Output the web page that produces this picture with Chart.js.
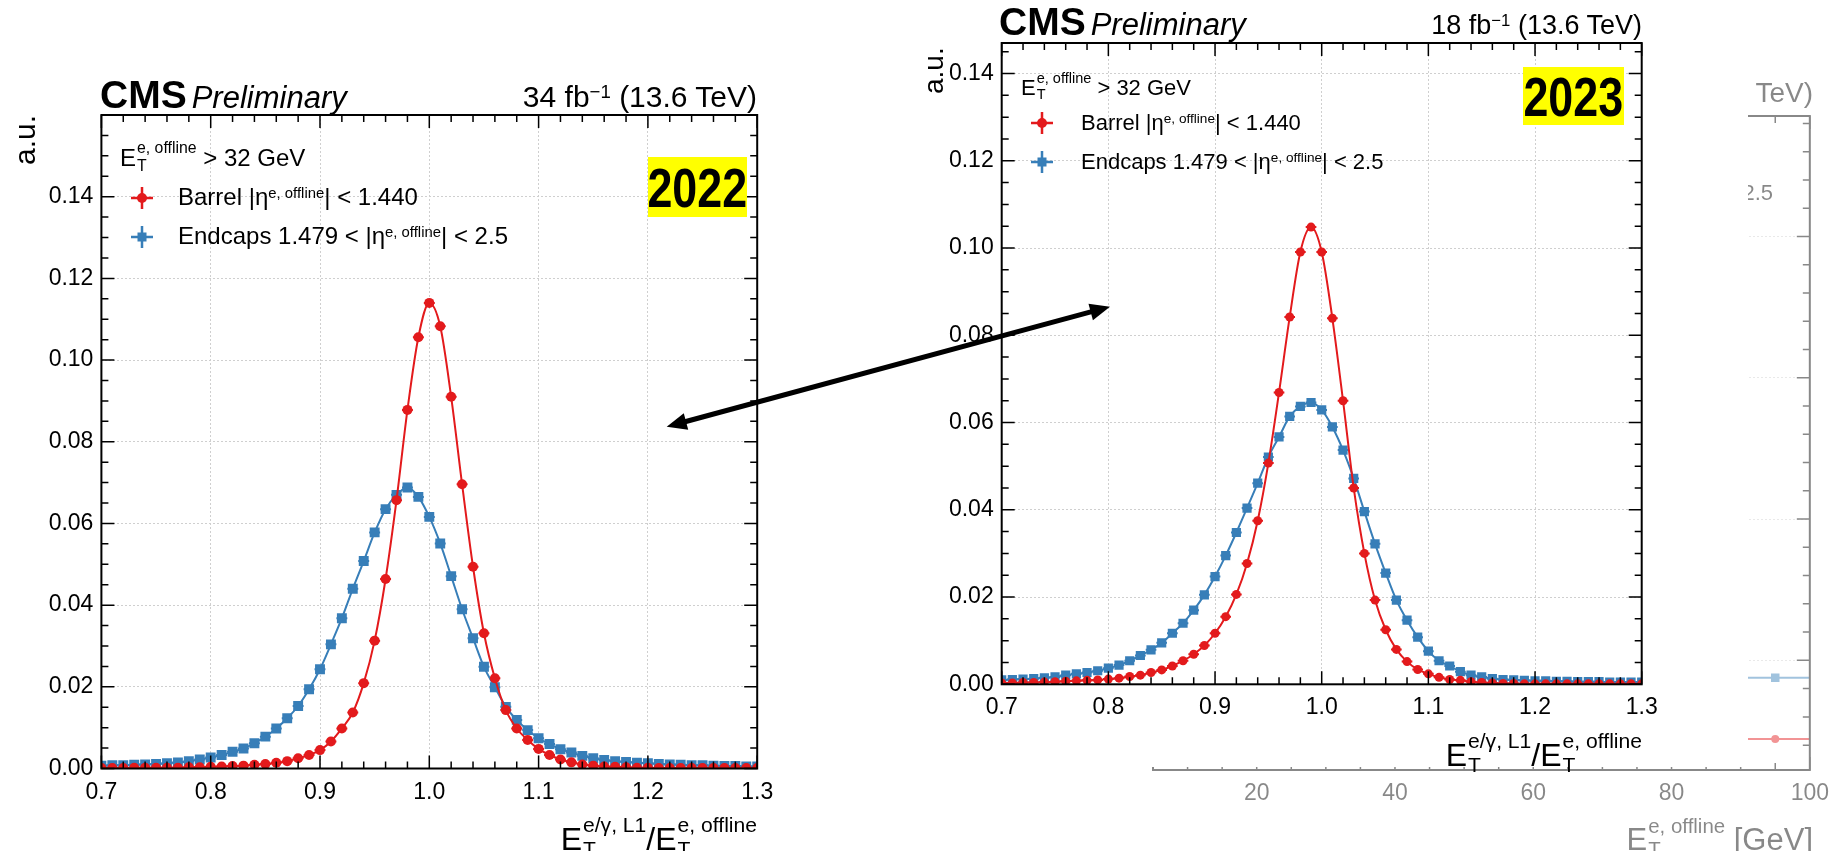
<!DOCTYPE html>
<html>
<head>
<meta charset="utf-8">
<title>L1 e/gamma response 2022 vs 2023</title>
<script src="https://cdn.jsdelivr.net/npm/chart.js@4/dist/chart.umd.min.js"></script>
<style>
  html, body { margin: 0; padding: 0; background: #fff; }
  body { width: 1839px; height: 851px; position: relative; overflow: hidden;
         font-family: "Liberation Sans", Arial, sans-serif; color: #000; }
  .panel { position: absolute; top: 0; }
  .panel canvas { position: absolute; left: 0; top: 0; }
  .txt { position: absolute; white-space: nowrap; line-height: 1; }
  .txt sup { font-size: 0.62em; vertical-align: 0.5em; line-height: 0; }
  .st { display: inline-block; vertical-align: -0.28em; font-size: 0.66em; line-height: 1.12; margin-left: 1px; }
  .st span { display: block; }
  .cms b { font-size: 39px; }
  .cms i { font-size: 31px; margin-left: 5px; }
  .rot { transform-origin: 0 0; transform: rotate(-90deg); }
  .year { position: absolute; background: #ffff00; display: flex; align-items: center; justify-content: center; }
  .year span { font: bold 56px "Liberation Sans", Arial, sans-serif; transform: scaleX(0.8); }
  .mk { position: absolute; }
</style>
</head>
<body>

<!-- faded plot peeking out on the right -->
<div class="panel" id="p3" style="left:1100px;width:739px;height:851px;opacity:0.47;z-index:1">
  <canvas id="c3" width="739" height="851"></canvas>
  <div class="txt" style="right:26px;top:79px;font-size:28px">18 fb<sup>−1</sup> (13.6 TeV)</div>
  <div class="txt" style="right:66px;top:182px;font-size:22px">Endcaps 1.479 &lt; |η<sup>e, offline</sup>| &lt; 2.5</div>
  <div class="txt" style="right:26px;top:815px;font-size:31px">E<span class="st"><span>e, offline</span><span>T</span></span> [GeV]</div>
</div>

<!-- 2023 -->
<div class="panel" id="p23" style="left:900px;width:848px;height:767px;background:#fff;z-index:2">
  <canvas id="c23" width="848" height="767"></canvas>
  <div class="txt cms" style="left:99px;top:2px"><b>CMS</b><i>Preliminary</i></div>
  <div class="txt" style="right:106px;top:12px;font-size:27px">18 fb<sup>−1</sup> (13.6 TeV)</div>
  <div class="txt rot" style="left:20px;top:94px;font-size:28px">a.u.</div>
  <div class="txt" style="left:121px;top:70px;font-size:22px">E<span class="st"><span>e, offline</span><span>T</span></span> &gt; 32 GeV</div>
  <svg class="mk" style="left:129px;top:110px" width="26" height="26"><path d="M2,13H24M13,2V24" stroke="#e31a1c" stroke-width="2.5"/><circle cx="13" cy="13" r="5" fill="#e31a1c"/></svg>
  <div class="txt" style="left:181px;top:112px;font-size:22px">Barrel |η<sup>e, offline</sup>| &lt; 1.440</div>
  <svg class="mk" style="left:129px;top:149px" width="26" height="26"><path d="M2,13H24M13,2V24" stroke="#377eb8" stroke-width="2.5"/><rect x="8.5" y="8.5" width="9" height="9" fill="#377eb8"/></svg>
  <div class="txt" style="left:181px;top:151px;font-size:22px">Endcaps 1.479 &lt; |η<sup>e, offline</sup>| &lt; 2.5</div>
  <div class="year" style="left:623px;top:67px;width:101px;height:58px"><span>2023</span></div>
  <div class="txt" style="right:106px;top:729px;font-size:32px">E<span class="st"><span>e/γ, L1</span><span>T</span></span>/E<span class="st"><span>e, offline</span><span>T</span></span></div>
</div>

<!-- 2022 -->
<div class="panel" id="p22" style="left:0;width:800px;height:851px;background:#fff;z-index:3">
  <canvas id="c22" width="800" height="851"></canvas>
  <div class="txt cms" style="left:100px;top:75px"><b>CMS</b><i>Preliminary</i></div>
  <div class="txt" style="right:43px;top:82px;font-size:30px">34 fb<sup>−1</sup> (13.6 TeV)</div>
  <div class="txt rot" style="left:10px;top:165px;font-size:30px">a.u.</div>
  <div class="txt" style="left:120px;top:139px;font-size:24px">E<span class="st"><span>e, offline</span><span>T</span></span> &gt; 32 GeV</div>
  <svg class="mk" style="left:129px;top:185px" width="26" height="26"><path d="M2,13H24M13,2V24" stroke="#e31a1c" stroke-width="2.5"/><circle cx="13" cy="13" r="5" fill="#e31a1c"/></svg>
  <div class="txt" style="left:178px;top:185px;font-size:24px">Barrel |η<sup>e, offline</sup>| &lt; 1.440</div>
  <svg class="mk" style="left:129px;top:224px" width="26" height="26"><path d="M2,13H24M13,2V24" stroke="#377eb8" stroke-width="2.5"/><rect x="8.5" y="8.5" width="9" height="9" fill="#377eb8"/></svg>
  <div class="txt" style="left:178px;top:224px;font-size:24px">Endcaps 1.479 &lt; |η<sup>e, offline</sup>| &lt; 2.5</div>
  <div class="year" style="left:648px;top:157px;width:99px;height:60px"><span>2022</span></div>
  <div class="txt" style="right:43px;top:813px;font-size:32px">E<span class="st"><span>e/γ, L1</span><span>T</span></span>/E<span class="st"><span>e, offline</span><span>T</span></span></div>
</div>

<canvas id="arrow" width="1839" height="851" style="position:absolute;left:0;top:0;z-index:4"></canvas>

<script>
// ── Data ─────────────────────────────────────────────────────────
const RED = '#e31a1c';
const BLUE = '#377eb8';
const FONT = '"Liberation Sans", Arial, sans-serif';

// E_T(L1) / E_T(offline) bins
const RESPONSE_BINS = [
  0.70, 0.71, 0.72, 0.73, 0.74, 0.75, 0.76, 0.77, 0.78, 0.79,
  0.80, 0.81, 0.82, 0.83, 0.84, 0.85, 0.86, 0.87, 0.88, 0.89,
  0.90, 0.91, 0.92, 0.93, 0.94, 0.95, 0.96, 0.97, 0.98, 0.99,
  1.00, 1.01, 1.02, 1.03, 1.04, 1.05, 1.06, 1.07, 1.08, 1.09,
  1.10, 1.11, 1.12, 1.13, 1.14, 1.15, 1.16, 1.17, 1.18, 1.19,
  1.20, 1.21, 1.22, 1.23, 1.24, 1.25, 1.26, 1.27, 1.28, 1.29, 1.30
];

const BARREL_2022 = [
  0.0001, 0.0001, 0.0001, 0.0002, 0.0002, 0.0002, 0.0002, 0.0002, 0.0003, 0.0003,
  0.0004, 0.0005, 0.0006, 0.0007, 0.0009, 0.0011, 0.0014, 0.0018, 0.0025, 0.0033,
  0.0045, 0.0066, 0.0098, 0.0137, 0.0209, 0.0313, 0.0464, 0.0657, 0.0878, 0.1056,
  0.1140, 0.1083, 0.0910, 0.0696, 0.0494, 0.0331, 0.0221, 0.0143, 0.0098, 0.0070,
  0.0048, 0.0033, 0.0022, 0.0015, 0.0010, 0.0007, 0.0005, 0.0004, 0.0003, 0.0002,
  0.0002, 0.0001, 0.0001, 0.0001, 0.0001, 0.0001, 0.0001, 0.0001, 0.0001, 0.0001, 0.0001
];
const ENDCAP_2022 = [
  0.0007, 0.0008, 0.0008, 0.0009, 0.0010, 0.0011, 0.0013, 0.0015, 0.0018, 0.0022,
  0.0027, 0.0033, 0.0041, 0.0049, 0.0062, 0.0078, 0.0098, 0.0123, 0.0153, 0.0194,
  0.0243, 0.0304, 0.0368, 0.0440, 0.0508, 0.0578, 0.0635, 0.0670, 0.0688, 0.0665,
  0.0616, 0.0551, 0.0471, 0.0390, 0.0319, 0.0249, 0.0199, 0.0151, 0.0119, 0.0094,
  0.0074, 0.0060, 0.0047, 0.0039, 0.0031, 0.0025, 0.0021, 0.0018, 0.0016, 0.0014,
  0.0013, 0.0011, 0.0010, 0.0009, 0.0008, 0.0008, 0.0007, 0.0006, 0.0006, 0.0005, 0.0005
];
const BARREL_2023 = [
  0.0003, 0.0003, 0.0004, 0.0004, 0.0005, 0.0006, 0.0007, 0.0008, 0.0009, 0.0010,
  0.0012, 0.0014, 0.0018, 0.0021, 0.0027, 0.0033, 0.0042, 0.0054, 0.0069, 0.0089,
  0.0117, 0.0155, 0.0206, 0.0277, 0.0375, 0.0507, 0.0669, 0.0842, 0.0991, 0.1048,
  0.0991, 0.0839, 0.0650, 0.0450, 0.0300, 0.0193, 0.0125, 0.0080, 0.0052, 0.0034,
  0.0024, 0.0016, 0.0011, 0.0009, 0.0006, 0.0004, 0.0003, 0.0002, 0.0002, 0.0001,
  0.0001, 0.0001, 0.0001, 0.0001, 0.0001, 0.0001, 0.0001, 0.0001, 0.0001, 0.0001, 0.0001
];
const ENDCAP_2023 = [
  0.0010, 0.0011, 0.0012, 0.0013, 0.0015, 0.0017, 0.0021, 0.0024, 0.0027, 0.0031,
  0.0037, 0.0044, 0.0054, 0.0066, 0.0079, 0.0095, 0.0117, 0.0140, 0.0170, 0.0205,
  0.0247, 0.0295, 0.0348, 0.0404, 0.0461, 0.0521, 0.0567, 0.0614, 0.0637, 0.0646,
  0.0629, 0.0590, 0.0537, 0.0472, 0.0396, 0.0322, 0.0255, 0.0193, 0.0147, 0.0108,
  0.0076, 0.0054, 0.0042, 0.0029, 0.0021, 0.0017, 0.0013, 0.0011, 0.0010, 0.0009,
  0.0008, 0.0008, 0.0007, 0.0007, 0.0006, 0.0006, 0.0006, 0.0005, 0.0005, 0.0005, 0.0005
];

// partly hidden plot on the right (only the last E_T bin shows)
const ET_BINS = [95];
const BARREL_ET = [0.443];
const ENDCAP_ET = [0.877];

// tick labels
const X_TICKS = [0.7, 0.8, 0.9, 1.0, 1.1, 1.2, 1.3];
const Y_TICKS = [0, 0.02, 0.04, 0.06, 0.08, 0.10, 0.12, 0.14];
const ET_TICKS = [20, 40, 60, 80, 100];
const ET_Y_TICKS = [1, 2, 3, 4];

// ── Plugins: CMS-style frame with inward ticks, x error bars ────
const framePlugin = {
  id: 'frame',
  afterDraw(chart, args, o) {
    const { ctx, chartArea: a } = chart;
    const { x, y } = chart.scales;
    ctx.save();
    ctx.strokeStyle = o.color;
    ctx.lineWidth = 1.5;
    ctx.beginPath();
    const mark = (scale, value, len, horiz) => {
      const p = scale.getPixelForValue(value);
      if (horiz) {
        ctx.moveTo(p, a.bottom); ctx.lineTo(p, a.bottom - len);
        ctx.moveTo(p, a.top); ctx.lineTo(p, a.top + len);
      } else {
        ctx.moveTo(a.left, p); ctx.lineTo(a.left + len, p);
        ctx.moveTo(a.right, p); ctx.lineTo(a.right - len, p);
      }
    };
    const minors = (scale, step, horiz) => {
      const k0 = Math.ceil(scale.min / step - 1e-6);
      const k1 = Math.floor(scale.max / step + 1e-6);
      for (let k = k0; k <= k1; k++) mark(scale, k * step, 7, horiz);
    };
    minors(x, o.xMinor, true);
    minors(y, o.yMinor, false);
    x.ticks.forEach(t => mark(x, t.value, 13, true));
    y.ticks.forEach(t => mark(y, t.value, 13, false));
    ctx.stroke();
    ctx.lineWidth = 2;
    ctx.strokeRect(a.left, a.top, a.right - a.left, a.bottom - a.top);
    ctx.restore();
  }
};

const xErrPlugin = {
  id: 'xerr',
  beforeDatasetsDraw(chart, args, o) {
    const { ctx, chartArea: a } = chart;
    const x = chart.scales.x;
    ctx.save();
    ctx.beginPath();
    ctx.rect(a.left, a.top, a.right - a.left, a.bottom - a.top);
    ctx.clip();
    chart.data.datasets.forEach((ds, i) => {
      const meta = chart.getDatasetMeta(i);
      ctx.strokeStyle = ds.borderColor;
      ctx.lineWidth = 2;
      ctx.beginPath();
      meta.data.forEach((pt, j) => {
        const v = ds.data[j].x;
        ctx.moveTo(x.getPixelForValue(v - o.half), pt.y);
        ctx.lineTo(x.getPixelForValue(v + o.half), pt.y);
      });
      ctx.stroke();
    });
    ctx.restore();
  }
};

Chart.register(framePlugin, xErrPlugin);

// ── Chart builder ────────────────────────────────────────────────
function series(xs, ys, color, style, radius, line) {
  return {
    data: xs.map((x, i) => ({ x, y: ys[i] })),
    borderColor: color,
    backgroundColor: color,
    borderWidth: line ? 2 : 0,
    showLine: line,
    pointStyle: style,
    pointRadius: radius,
    pointBorderWidth: 0,
    tension: 0.4,
    cubicInterpolationMode: 'monotone',
  };
}

function makeChart(id, box, datasets, sx, sy, frameOpts, half) {
  const tickFont = { family: FONT, size: 23 };
  return new Chart(document.getElementById(id), {
    type: 'line',
    data: { datasets },
    options: {
      responsive: false,
      animation: false,
      devicePixelRatio: 1,
      layout: { padding: { left: 0, top: box.t, right: box.w - box.r, bottom: box.h - box.b - 40 } },
      plugins: {
        legend: { display: false },
        tooltip: { enabled: false },
        frame: frameOpts,
        xerr: { half },
      },
      scales: {
        x: {
          type: 'linear', min: sx.min, max: sx.max,
          afterBuildTicks: s => { s.ticks = sx.ticks.map(v => ({ value: v })); },
          afterFit: s => { s.height = 40; },
          ticks: { font: tickFont, color: '#000', padding: 10, maxRotation: 0, autoSkip: false, callback: sx.fmt },
          grid: { color: '#cfcfcf', lineWidth: 1, drawTicks: false },
          border: { display: false, dash: [2, 2] },
        },
        y: {
          type: 'linear', min: sy.min, max: sy.max,
          afterBuildTicks: s => { s.ticks = sy.ticks.map(v => ({ value: v })); },
          afterFit: s => { s.width = box.l; },
          ticks: { display: sy.labels, font: tickFont, color: '#000', padding: 8, callback: v => v.toFixed(2) },
          grid: { color: '#cfcfcf', lineWidth: 1, drawTicks: false },
          border: { display: false, dash: [2, 2] },
        },
      },
    },
  });
}

const respX = { min: 0.7, max: 1.3, ticks: X_TICKS, fmt: v => v.toFixed(1) };

makeChart('c22', { w: 800, h: 851, l: 101.4, t: 115, r: 757.2, b: 768.5 }, [
  { ...series(RESPONSE_BINS, BARREL_2022, RED, 'circle', 5, true), order: 0 },
  { ...series(RESPONSE_BINS, ENDCAP_2022, BLUE, 'rect', 7, true), order: 1 },
], respX, { min: 0, max: 0.16, ticks: Y_TICKS, labels: true },
  { color: '#000', xMinor: 0.02, yMinor: 0.005 }, 0.005);

makeChart('c23', { w: 848, h: 767, l: 101.7, t: 43, r: 741.7, b: 684.3 }, [
  { ...series(RESPONSE_BINS, BARREL_2023, RED, 'circle', 4.5, true), order: 0 },
  { ...series(RESPONSE_BINS, ENDCAP_2023, BLUE, 'rect', 6.5, true), order: 1 },
], respX, { min: 0, max: 0.147, ticks: Y_TICKS, labels: true },
  { color: '#000', xMinor: 0.02, yMinor: 0.005 }, 0.005);

makeChart('c3', { w: 739, h: 851, l: 53, t: 116, r: 713, b: 770 }, [
  { ...series(ET_BINS, BARREL_ET, RED, 'circle', 4, false), order: 0 },
  { ...series(ET_BINS, ENDCAP_ET, BLUE, 'rect', 6, false), order: 1 },
], { min: 5, max: 100, ticks: ET_TICKS, fmt: v => String(v) },
  { min: 0.224, max: 4.853, ticks: ET_Y_TICKS, labels: false },
  { color: '#000', xMinor: 5, yMinor: 0.2 }, 5);

// ── Double-headed arrow between the panels ──────────────────────
(function drawArrow() {
  const ctx = document.getElementById('arrow').getContext('2d');
  const A = [666.7, 426.7], B = [1110, 306.7];
  const dx = B[0] - A[0], dy = B[1] - A[1], L = Math.hypot(dx, dy);
  const ux = dx / L, uy = dy / L, nx = -uy, ny = ux;
  const head = 20, hw = 8.5;
  ctx.fillStyle = ctx.strokeStyle = '#000';
  ctx.lineWidth = 5;
  ctx.beginPath();
  ctx.moveTo(A[0] + ux * (head - 2), A[1] + uy * (head - 2));
  ctx.lineTo(B[0] - ux * (head - 2), B[1] - uy * (head - 2));
  ctx.stroke();
  [[A, 1], [B, -1]].forEach(([P, s]) => {
    ctx.beginPath();
    ctx.moveTo(P[0], P[1]);
    ctx.lineTo(P[0] + s * ux * head + nx * hw, P[1] + s * uy * head + ny * hw);
    ctx.lineTo(P[0] + s * ux * head - nx * hw, P[1] + s * uy * head - ny * hw);
    ctx.closePath();
    ctx.fill();
  });
})();
</script>
</body>
</html>
